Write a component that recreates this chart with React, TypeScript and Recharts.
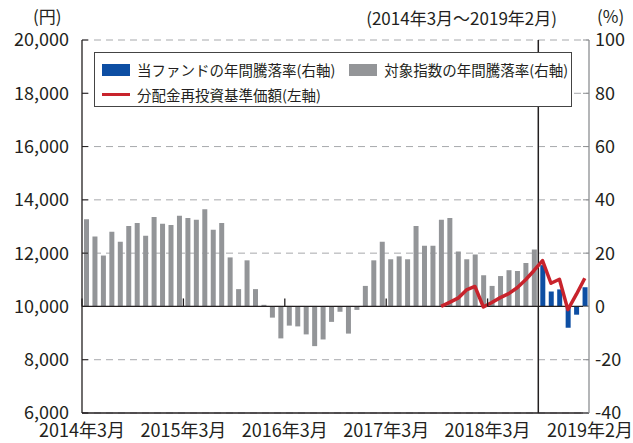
import React from "react";
import { Bar, CartesianGrid, ComposedChart, Line, ReferenceLine, XAxis, YAxis } from "recharts";

const FONT = '"Noto Sans CJK JP", "Noto Sans", sans-serif';
const TEXT = "#231f20";

// 2014年3月 〜 2019年2月, monthly categories
const months: string[] = [];
for (let y = 2014; y <= 2019; y++) {
  for (let m = 1; m <= 12; m++) {
    if ((y === 2014 && m < 3) || (y === 2019 && m > 2)) continue;
    months.push(`${y}年${m}月`);
  }
}

const xTickLabels = ["2014年3月", "2015年3月", "2016年3月", "2017年3月", "2018年3月", "2019年2月"];
const leftTicks = [6000, 8000, 10000, 12000, 14000, 16000, 18000, 20000];
const rightTicks = [-40, -20, 0, 20, 40, 60, 80, 100];

// 対象指数の年間騰落率 (%), from 2014年3月
const indexRate = [
  32.7, 26.2, 19.1, 28.0, 24.3, 30.2, 31.3, 26.5, 33.6, 31.0, 30.6, 34.0,
  33.2, 32.5, 36.5, 28.8, 31.3, 18.4, 6.5, 17.3, 6.5, 0.6, -4.2, -12.0,
  -7.2, -7.5, -10.5, -14.9, -12.4, -5.8, -2.0, -10.2, -1.3, 7.7, 17.3, 24.3,
  17.7, 18.8, 17.7, 30.2, 22.8, 22.8, 32.5, 33.2, 20.6, 17.7, 19.5, 11.7,
  7.7, 11.4, 13.6, 13.3, 16.3, 21.4,
];

// 当ファンドの年間騰落率 (%)
const fundStart = "2018年9月";
const fundRate = [15.5, 5.6, 6.4, -8.0, -3.1, 7.2];

// 分配金再投資基準価額 (円)
const navStart = "2017年9月";
const navValues = [
  10000, 10150, 10310, 10620, 10750, 9980, 10150, 10330, 10480, 10700, 11000, 11350,
  11720, 10870, 11020, 9880, 10450, 11060,
];

const fundIdx = months.indexOf(fundStart);
const navIdx = months.indexOf(navStart);

const data = months.map((month, i) => ({
  month,
  index: i < indexRate.length ? indexRate[i] : null,
  fund: i >= fundIdx ? fundRate[i - fundIdx] : null,
  nav: i >= navIdx ? navValues[i - navIdx] : null,
}));

const W = 633;
const H = 443;
const TOP = 40;
const LEFT_W = 82;
const RIGHT_W = 44;
const XAXIS_H = 30;
const PLOT_W = W - LEFT_W - RIGHT_W;
const PLOT_H = H - TOP - XAXIS_H;
const BAND = PLOT_W / months.length;
const ZERO_Y = TOP + (PLOT_H * 100) / 140;

const XTick = (props: any) => {
  const { x, y, payload } = props;
  const last = payload.value === xTickLabels[xTickLabels.length - 1];
  const bx = last ? x + BAND / 2 : x - BAND / 2;
  return (
    <g>
      {!last && <line x1={bx} x2={bx} y1={ZERO_Y - 8} y2={ZERO_Y} stroke={TEXT} strokeWidth={1.3} />}
      <text x={last ? bx + 1 : bx} y={y + 16} textAnchor="middle" fill={TEXT} fontSize={18} fontFamily={FONT}>
        {payload.value}
      </text>
    </g>
  );
};

const LegendRow = ({ items }: { items: { label: string; color: string; line?: boolean }[] }) => (
  <div style={{ display: "flex", alignItems: "center", height: 25 }}>
    {items.map((it) => (
      <div key={it.label} style={{ display: "flex", alignItems: "center", marginRight: 14 }}>
        <span
          style={{
            display: "inline-block",
            width: 28,
            height: it.line ? 3 : 12,
            background: it.color,
            marginRight: 7,
          }}
        />
        <span style={{ fontSize: 14.5, color: TEXT, whiteSpace: "nowrap" }}>{it.label}</span>
      </div>
    ))}
  </div>
);

export default function App() {
  return (
    <div style={{ position: "absolute", left: 0, top: 0, width: W, height: H, fontFamily: FONT, background: "#fff" }}>
      <div style={{ position: "absolute", left: 33, top: 6, fontSize: 17, lineHeight: "20px", color: TEXT }}>(円)</div>
      <div
        style={{
          position: "absolute",
          right: W - 557,
          top: 8,
          fontSize: 17,
          lineHeight: "20px",
          color: TEXT,
          whiteSpace: "nowrap",
        }}
      >
        (2014年3月〜2019年2月)
      </div>
      <div style={{ position: "absolute", left: 597, top: 6, fontSize: 17, lineHeight: "20px", color: TEXT }}>(%)</div>
      <ComposedChart width={W} height={H} data={data} margin={{ top: TOP, right: 0, bottom: 0, left: 0 }}>
        <CartesianGrid yAxisId="left" vertical={false} stroke="#a7a9ac" strokeDasharray="7 5" />
        <XAxis
          dataKey="month"
          height={XAXIS_H}
          ticks={xTickLabels}
          interval={0}
          tick={<XTick />}
          tickLine={false}
          axisLine={{ stroke: TEXT, strokeWidth: 1.3 }}
        />
        <YAxis
          yAxisId="left"
          orientation="left"
          width={LEFT_W}
          domain={[6000, 20000]}
          ticks={leftTicks}
          tickSize={-6}
          tickMargin={19}
          axisLine={{ stroke: TEXT, strokeWidth: 1.3 }}
          tickLine={{ stroke: TEXT }}
          tick={{ fill: TEXT, fontSize: 18, fontFamily: FONT }}
          tickFormatter={(v) => Number(v).toLocaleString("en-US")}
          allowDataOverflow
        />
        <YAxis
          yAxisId="right"
          orientation="right"
          width={RIGHT_W}
          domain={[-40, 100]}
          ticks={rightTicks}
          tickSize={-6}
          tickMargin={12}
          axisLine={{ stroke: "#8d8f92", strokeWidth: 1.3 }}
          tickLine={{ stroke: "#8d8f92" }}
          tick={{ fill: TEXT, fontSize: 18, fontFamily: FONT }}
          allowDataOverflow
        />
        <Bar yAxisId="right" dataKey="index" stackId="rate" fill="#939598" barSize={5} isAnimationActive={false} />
        <Bar yAxisId="right" dataKey="fund" stackId="rate" fill="#0d4ea3" barSize={5} isAnimationActive={false} />
        <ReferenceLine yAxisId="right" y={0} stroke={TEXT} strokeWidth={1.3} />
        <ReferenceLine yAxisId="right" x={fundStart} position="start" stroke={TEXT} strokeWidth={1.5} />
        <Line
          yAxisId="left"
          dataKey="nav"
          stroke="#c8232c"
          strokeWidth={3.5}
          strokeLinejoin="round"
          dot={false}
          connectNulls={false}
          isAnimationActive={false}
        />
      </ComposedChart>
      <div
        style={{
          position: "absolute",
          left: 94,
          top: 52,
          width: 478,
          height: 55,
          boxSizing: "border-box",
          border: "1px solid #444",
          background: "#fff",
          padding: "4px 0 0 7px",
        }}
      >
        <LegendRow
          items={[
            { label: "当ファンドの年間騰落率(右軸)", color: "#0d4ea3" },
            { label: "対象指数の年間騰落率(右軸)", color: "#939598" },
          ]}
        />
        <LegendRow items={[{ label: "分配金再投資基準価額(左軸)", color: "#c8232c", line: true }]} />
      </div>
    </div>
  );
}
